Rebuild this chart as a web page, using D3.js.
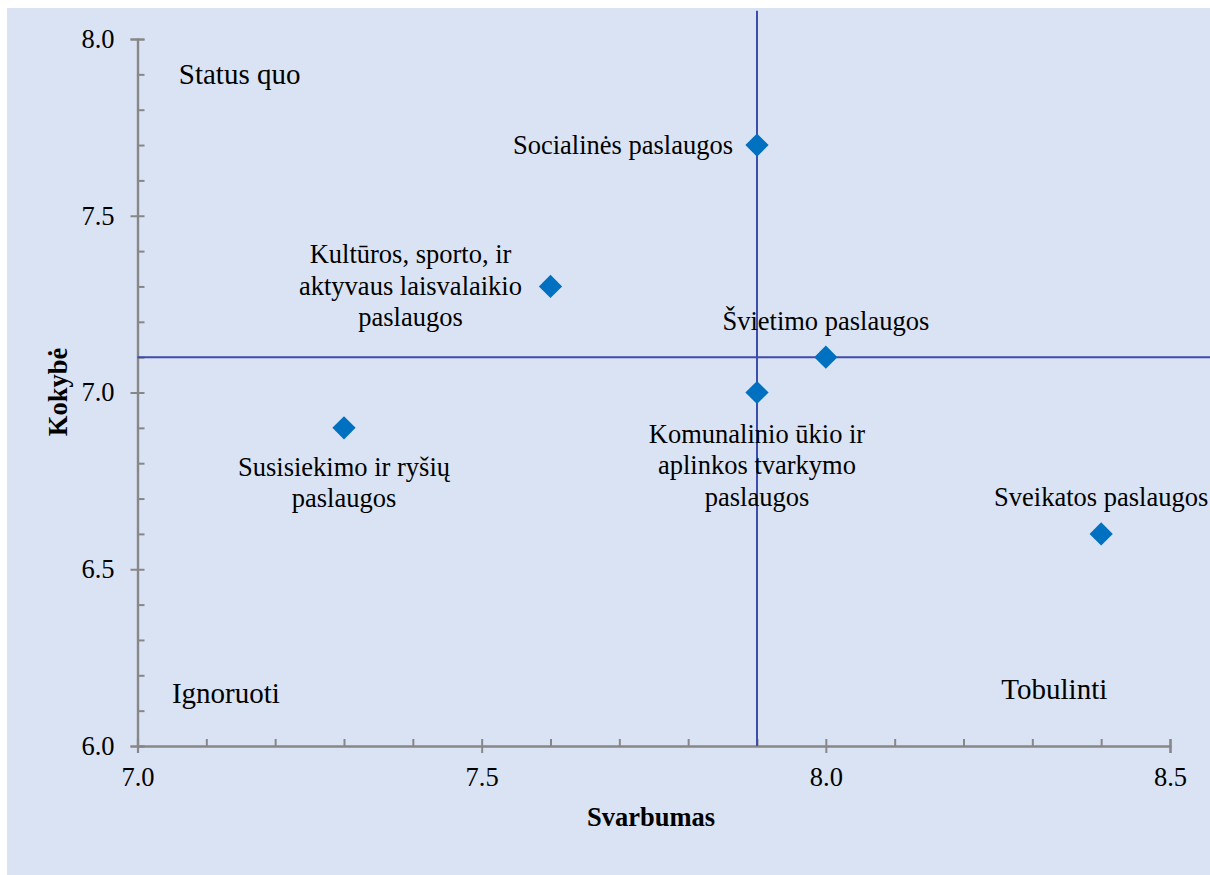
<!DOCTYPE html>
<html>
<head>
<meta charset="utf-8">
<script src="https://cdn.jsdelivr.net/npm/d3@7"></script>
<style>
  html, body { margin: 0; padding: 0; background: #ffffff; }
</style>
</head>
<body>
<div id="chart"></div>
<script>
// Services: importance (x) vs quality (y)
var services = [
  ["Socialinės paslaugos"],
  ["Kultūros, sporto, ir", "aktyvaus laisvalaikio", "paslaugos"],
  ["Švietimo paslaugos"],
  ["Komunalinio ūkio ir", "aplinkos tvarkymo", "paslaugos"],
  ["Susisiekimo ir ryšių", "paslaugos"],
  ["Sveikatos paslaugos"]
];
var importance = [7.9, 7.6, 8.0, 7.9, 7.3, 8.4];
var quality = [7.7, 7.3, 7.1, 7.0, 6.9, 6.6];

var xTicks = [7.0, 7.5, 8.0, 8.5];
var yTicks = [6.0, 6.5, 7.0, 7.5, 8.0];

var quadrantNames = ["Status quo", "Ignoruoti", "Tobulinti"];
var quadrantX = [7.06, 7.05, 8.255];
var quadrantY = [7.90, 6.15, 6.16];

// cross lines (averages)
var crossX = 7.9;
var crossY = 7.1;

// label placement relative to each point [dx, dy, anchor]
var labelPlace = [
  [-24, 0, "end"],
  [-140, -32, "middle"],
  [0, -36, "middle"],
  [0, 41, "middle"],
  [0, 39, "middle"],
  [0, -37, "middle"]
];

var W = 1210, H = 875;
var fs = 26.5, fsQuad = 29, lineGap = 31.5;
var serif = "'Liberation Serif', 'Times New Roman', serif";

var svg = d3.select("#chart").append("svg")
  .attr("width", W).attr("height", H)
  .style("font-family", serif);

svg.append("rect")
  .attr("x", 7).attr("y", 8)
  .attr("width", W - 7).attr("height", H - 8)
  .attr("fill", "#dae3f3");

var x = d3.scaleLinear().domain([7.0, 8.5]).range([137.5, 1170]);
var y = d3.scaleLinear().domain([6.0, 8.0]).range([746, 39]);

var minorX = d3.range(7.0, 8.501, 0.1).map(d => +d.toFixed(1));
var minorY = d3.range(6.0, 8.001, 0.1).map(d => +d.toFixed(1));

var axisColor = "#878787";

// y axis
var gy = svg.append("g").attr("transform", "translate(" + x(7.0) + ",0)");
gy.append("g").call(d3.axisRight(y).tickValues(minorY).tickSize(7).tickFormat(""));
gy.append("g").call(d3.axisLeft(y).tickValues(yTicks).tickSize(7).tickPadding(16).tickFormat(d3.format(".1f")));
gy.selectAll(".domain").attr("stroke", axisColor).attr("stroke-width", 2.2);
gy.selectAll(".tick line").attr("stroke", axisColor).attr("stroke-width", 2);
gy.selectAll("text").attr("font-size", fs).style("font-family", serif).attr("fill", "#000");

// x axis
var gx = svg.append("g").attr("transform", "translate(0," + y(6.0) + ")");
gx.append("g").call(d3.axisTop(x).tickValues(minorX).tickSize(7).tickFormat(""));
gx.append("g").call(d3.axisBottom(x).tickValues(xTicks).tickSize(7).tickPadding(14).tickFormat(d3.format(".1f")));
gx.selectAll(".domain").attr("stroke", axisColor).attr("stroke-width", 2.2);
gx.selectAll(".tick line").attr("stroke", axisColor).attr("stroke-width", 2);
gx.selectAll("text").attr("font-size", fs).style("font-family", serif).attr("fill", "#000");

// axis titles
svg.append("text")
  .attr("x", 651).attr("y", 826)
  .attr("text-anchor", "middle")
  .attr("font-size", fs).attr("font-weight", "bold")
  .style("font-family", serif)
  .text("Svarbumas");

svg.append("text")
  .attr("transform", "translate(67,392) rotate(-90)")
  .attr("text-anchor", "middle")
  .attr("font-size", fs).attr("font-weight", "bold")
  .style("font-family", serif)
  .text("Kokybė");

// cross lines
var lineColor = "#3d4dab";
svg.append("line")
  .attr("x1", x(crossX)).attr("x2", x(crossX))
  .attr("y1", y(8.08)).attr("y2", y(6.0))
  .attr("stroke", lineColor).attr("stroke-width", 2);
svg.append("line")
  .attr("x1", x(7.0)).attr("x2", W)
  .attr("y1", y(crossY)).attr("y2", y(crossY))
  .attr("stroke", lineColor).attr("stroke-width", 2);

// quadrant names
svg.selectAll(".quad").data(quadrantNames).enter().append("text")
  .attr("class", "quad")
  .attr("x", (d, i) => x(quadrantX[i]))
  .attr("y", (d, i) => y(quadrantY[i]) + 10)
  .attr("font-size", fsQuad)
  .style("font-family", serif)
  .text(d => d);

// points
var diamond = d3.symbol().type(d3.symbolSquare).size(270);
svg.selectAll(".pt").data(services).enter().append("path")
  .attr("class", "pt")
  .attr("d", diamond)
  .attr("transform", (d, i) => "translate(" + x(importance[i]) + "," + y(quality[i]) + ") rotate(45)")
  .attr("fill", "#0070c0");

// point labels
var labels = svg.selectAll(".lbl").data(services).enter().append("text")
  .attr("class", "lbl")
  .attr("font-size", fs)
  .style("font-family", serif)
  .attr("text-anchor", (d, i) => labelPlace[i][2])
  .attr("transform", (d, i) => "translate(" + (x(importance[i]) + labelPlace[i][0]) + "," + (y(quality[i]) + labelPlace[i][1] + 9) + ")");

labels.selectAll("tspan").data(d => d).enter().append("tspan")
  .attr("x", 0)
  .attr("y", (d, j) => j * lineGap)
  .text(d => d);
</script>
</body>
</html>
